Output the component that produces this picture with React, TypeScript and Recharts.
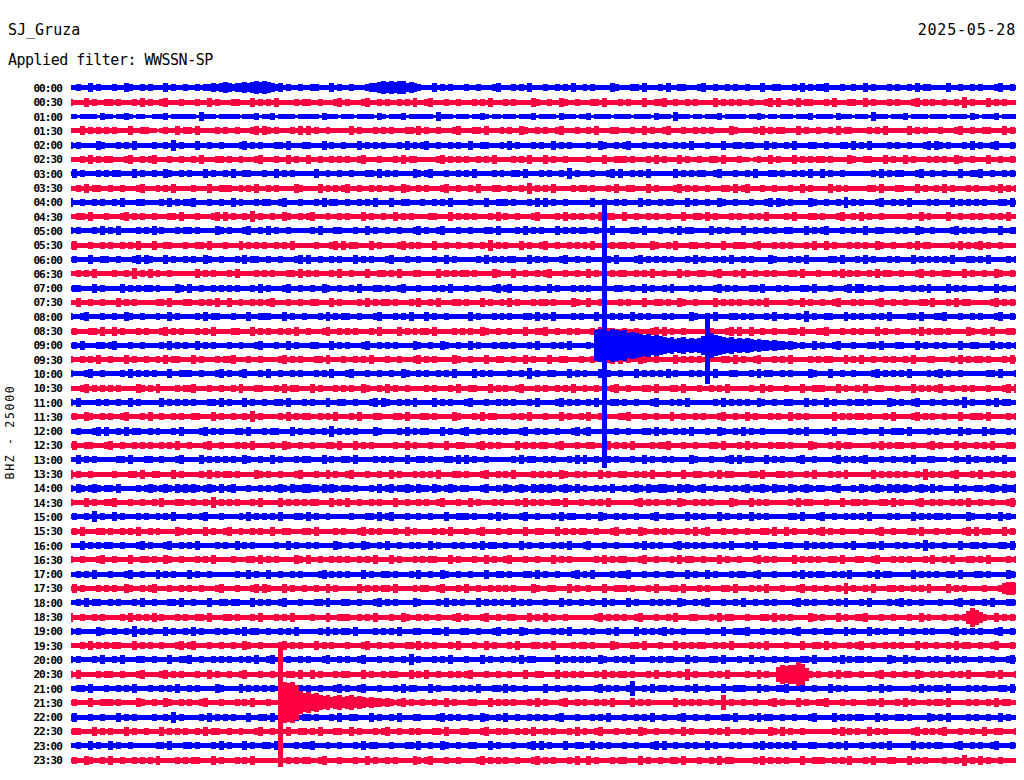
import React from 'react';
import { ComposedChart, Area, XAxis, YAxis } from 'recharts';

const stationName = 'SJ_Gruza';
const dayLabel = '2025-05-28';
const filterLabel = 'Applied filter: WWSSN-SP';
const channelLabel = 'BHZ - 25000';

const timeLabels = [
  '00:00', '00:30', '01:00', '01:30', '02:00', '02:30', '03:00', '03:30',
  '04:00', '04:30', '05:00', '05:30', '06:00', '06:30', '07:00', '07:30',
  '08:00', '08:30', '09:00', '09:30', '10:00', '10:30', '11:00', '11:30',
  '12:00', '12:30', '13:00', '13:30', '14:00', '14:30', '15:00', '15:30',
  '16:00', '16:30', '17:00', '17:30', '18:00', '18:30', '19:00', '19:30',
  '20:00', '20:30', '21:00', '21:30', '22:00', '22:30', '23:00', '23:30',
];

const traceColors = ['#0000ff', '#ff0040'];

// half height of each trace in px (base 36), one char per 7.5 s step, 240 steps per 30 min
const envelopes = [
  '2232242322 2322432232 3222423223 2232334345 4344545656 5434232232 2332224232 2322234456 5656645432 2242323222 3223222342 2232324222 3223232422 3232222432 2233242223 2422332223 4223223232 2322242233 2223242323 3422232232 2423222323 2232423322 2242232232 3222342232',
  '3222423223 3232223242 3223422232 2232242322 2332224232 3242222323 3223222342 3222342232 3223232422 3422232232 2232324222 3232222432 2322432232 2233242223 2322242233 4223223232 2224232323 2232223424 2232423322 2324222332 2423222323 2223423232 2322325232 2242323222',
  '2212222132 2122321221 1222312222 2214222122 2221222312 2312222122 2221322212 2212222132 1222312222 2214222122 2122321221 2221222312 2221322212 2312222122 2212222132 2214222122 1222312222 2122321221 2221222312 2221322212 2214222122 2312222122 2212222132 1222312222',
  '2224232323 2322242233 2212322423 3242222323 2232223424 3232223242 4232232222 2423222323 2322233242 3223222342 2233242223 2322432232 3223422232 2324222332 2232242322 3422232232 3232222432 2223242323 3222423223 2232423322 2232324222 2242323222 3222342232 2332224232',
  '3232222432 2232324222 2322325232 2242232232 2223423232 2233242223 3222423223 2224232323 2223242323 4223223232 2422332223 2423222323 2242323222 2322432232 3422232232 3223232422 2322242233 2332224232 2324222332 2322233242 3242222323 2232223424 3232223242 3223422232',
  '2223242323 3222342232 3422232232 2324222332 3223222342 2232242322 4223223232 3223422232 2232423322 2223423232 3223232422 2232324222 4232232222 2322242233 3232223242 3222423223 2233242223 2212322423 2224232323 3232222432 2332224232 2423222323 2322432232 2242232232',
  '2423222323 2332224232 2322432232 3222423223 2422332223 2242323222 2242232232 2322233242 3232222432 3422232232 3242222323 2233242223 2322325232 2232223424 2232324222 2224232323 3223422232 2324222332 3223232422 4232232222 2223242323 3222342232 2322242233 4223223232',
  '2232423322 3223222342 2232324222 2322242233 3223232422 3232222432 2224232323 4223223232 2322432232 3222342232 2324222332 2322325232 3242222323 3232223242 2332224232 2223423232 2322233242 3422232232 2232242322 2242323222 2233242223 3222423223 2423222323 2223242323',
  '4223223232 2324222332 2223242323 3422232232 2423222323 3223422232 2232423322 3223232422 2422332223 2232324222 2322242233 3232223242 4232232222 2242232232 3222423223 2332224232 2322432232 2232223424 3232222432 2322325232 3222342232 3242222323 2224232323 2322233242',
  '2233242223 2223423232 2322233242 2232223424 2322325232 2322432232 3422232232 3222423223 2242323222 2332224232 3232223242 3223222342 2223242323 2232423322 4223223232 2322242233 2423222323 2232324222 2324222332 3222342232 4232232222 2232242322 2242232232 3223232422',
  '3232223242 3242222323 2423222323 3232222432 3222342232 4232232222 2324222332 2232242322 3223222342 3223422232 2322233242 2223242323 2224232323 3223232422 2233242223 2232423322 2242323222 4223223232 2332224232 3422232232 2422332223 2322432232 2223423232 2322242233',
  '3422232232 3223232422 2422332223 2233242223 2224232323 2232324222 2232223424 2332224232 2223423232 2242232232 2322325232 3222423223 4223223232 3242222323 3232222432 2324222332 2322242233 3223422232 3232223242 2423222323 2322432232 2232423322 2223242323 4232232222',
  '2322242233 2232223424 3222423223 2322432232 2232423322 3223222342 4223223232 2242323222 3422232232 2232242322 2223242323 2332224232 3222342232 2322233242 2223423232 3232223242 3223232422 3232222432 2232324222 2233242223 2423222323 2224232323 2324222332 3242222323',
  '2232324222 2322325232 4232232222 2242323222 3242222323 2322233242 3232223242 2322242233 2324222332 2224232323 3232222432 2242232232 3422232232 2423222323 3223232422 3222423223 3223422232 4223223232 2233242223 2223242323 2232423322 3222342232 2332224232 2322432232',
  '2332224232 2224232323 3232222432 4223223232 3232223242 3222342232 2322432232 2324222332 3223422232 2232324222 3223222342 3422232232 2423222323 2322242233 2232242322 3242222323 2223423232 2233242223 2322233242 2232223424 4232232222 3223232422 2242323222 3222423223',
  '2242232232 2242323222 2233242223 3223232422 4223223232 3422232232 2332224232 2223242323 3232223242 2324222332 3222423223 2423222323 3232222432 2422332223 2322242233 2322432232 2224232323 2232324222 2232242322 3223422232 3222342232 2322233242 2232423322 2223423232',
  '3223422232 2322432232 2232242322 2232423322 2322242233 3222423223 2223242323 3223222342 2232324222 4232232222 2423222323 2322233242 3242222323 2224232323 2242323222 3232222432 2324222332 3232223242 2322325232 2332224232 3223232422 2233242223 3422232232 3222342232',
  '2322233242 2423222323 2223423232 2232324222 2332224232 3223232422 3222342232 3232223242 2224232323 3242222323 2322432232 2322242233 4223223232 2232423322 3223222342 4232232222 2232223424 2242232232 2233242223 3422232232 3222423223 2223242323 3232222432 2324222332',
  '2324222332 3422232232 2223242323 2242323222 3223222342 2232242322 2332224232 3222342232 3232222432 2322432232 2423222323 3232223242 2232324222 232fgzegfe fcdcbab9a9 8786786767 9zca987867 6765655454 4343232242 3223422232 2233242223 3222423223 2322242233 2224232323',
  '3223232422 3222423223 2232423322 2423222323 3422232232 2223423232 2233242223 2232324222 3223222342 3232222432 2322242233 2232242322 2422332223 2232223424 2322432232 2224232323 2322233242 3223422232 3242222323 2332224232 4223223232 2324222332 2223242323 3232223242',
  '3222342232 2223242323 2322242233 3223222342 3223422232 4223223232 2232324222 3422232232 2322432232 3223232422 2242323222 2322325232 2332224232 3222423223 2224232323 2423222323 2324222332 2232423322 3232222432 2242232232 2223423232 3242222323 4232232222 2233242223',
  '2223423232 3232222432 3242222323 3422232232 2324222332 2232423322 2423222323 2322432232 4232232222 3232223242 2332224232 3223422232 3223232422 3223222342 2322233242 2233242223 2232324222 2232242322 2322242233 3222423223 2422332223 2224232323 4223223232 2232223424',
  '3242222323 2232242322 2224232323 2322233242 3222423223 2233242223 2322242233 2232223424 3223232422 2242323222 3422232232 3232223242 2223423232 2324222332 3223222342 2232324222 2223242323 2322432232 2332224232 2423222323 3232222432 3223422232 2322325232 2232423322',
  '2322432232 3223422232 4223223232 2332224232 2322325232 2223242323 3223232422 2324222332 2233242223 3232222432 2232423322 2232324222 3222423223 2422332223 3422232232 2242232232 3222342232 2423222323 2242323222 2224232323 3232223242 2223423232 2322242233 3242222323',
  '2232223424 2232423322 3232223242 2223423232 2233242223 2332224232 2322325232 3232222432 2223242323 3222423223 4223223232 3222342232 3223222342 3422232232 2322233242 3223232422 2322432232 4232232222 2232324222 2324222332 2322242233 3242222323 2232242322 2423222323',
  '2422332223 4223223232 3223232422 3222342232 2232324222 2322432232 2322233242 2242323222 2232242322 2322242233 2223423232 2224232323 3223422232 2332224232 3242222323 3422232232 2233242223 2423222323 3232222432 2232423322 2223242323 3223222342 3222423223 2324222332',
  '2242323222 2233242223 3223222342 2224232323 2322432232 2423222323 3222423223 3242222323 2322242233 2322233242 4232232222 2232423322 3232223242 4223223232 2232242322 3232222432 2232223424 2332224232 3222342232 2223423232 3422232232 2324222332 2212322423 2232324222',
  '4232232222 2322233242 2332224232 2223242323 3232222432 3223222342 2232242322 3422232232 2423222323 2324222332 3222342232 3242222323 2322432232 3222423223 3223232422 2322242233 2232423322 2233242223 3232223242 2232324222 2224232323 2322325232 3223422232 4223223232',
  '3243234323 3242222323 4323432434 3432343242 3422232232 3234324334 4332434323 3232223242 3423343243 3243234323 3222342232 4323432434 3432343242 3223232422 3234324334 4332434323 4223223232 3423343243 3243234323 3223422232 4323432434 3432343242 3222423223 3234324334',
  '3222423223 3422232232 2324222332 2322325232 3232223242 2224232323 2332224232 4223223232 2242232232 3223422232 2423222323 2223242323 2233242223 2232324222 2223423232 2322432232 3232222432 2242323222 2232423322 2322242233 2322233242 3222342232 3223232422 3223222342',
  '2322325232 2423222323 2232324222 3223422232 2223242323 2324222332 4232232222 2322233242 3422232232 2322242233 3232223242 3222342232 2232423322 2322432232 3223222342 2332224232 3222423223 2242323222 2233242223 4223223232 3242222323 2224232323 3232222432 2232242322',
  '2324222332 3223232422 3232222432 3222423223 4223223232 2422332223 3242222323 2223423232 2232242322 2232324222 3223422232 2322242233 2224232323 3223222342 2322432232 3232223242 3422232232 2322233242 2423222323 4232232222 3222342232 2233242223 2232223424 2332224232',
  '2224232323 3223222342 3222342232 3242222323 2242323222 2232242322 3232222432 2322432232 4223223232 2423222323 2232423322 3222423223 2232324222 3422232232 2223242323 2223423232 3223232422 2324222332 2332224232 3232223242 2233242223 2322325232 2322242233 2322233242',
  '3223222342 2322242233 2322432232 2232324222 2322233242 3232222432 4223223232 3223232422 2423222323 2332224232 2232242322 3422232232 2242323222 2223242323 3222342232 2232423322 3222423223 2223423232 2224232323 2233242223 3223422232 3232223242 2324222332 3242222323',
  '2232324222 3222342232 2242323222 4232232222 2232242322 4223223232 2223423232 3222423223 3232223242 2322432232 2322242233 2322233242 3223222342 3242222323 3422232232 2332224232 2423222323 3223422232 2223242323 3223232422 2232423322 2224232323 2233242223 3232222432',
  '2423222323 2322432232 3422232232 3223222342 2232223424 3222423223 2232242322 2224232323 3242222323 3223422232 4223223232 3232222432 2332224232 2322242233 3232223242 2233242223 2322233242 2232324222 3222342232 2322325232 2324222332 3223232422 2242323222 2322235665',
  '2232423322 3232223242 2322233242 2322242233 2332224232 3223422232 2233242223 3223222342 3232222432 2223242323 2224232323 2242323222 3222423223 2232242322 2423222323 2322432232 3422232232 4223223232 2223423232 2232324222 3242222323 4232232222 3222342232 2324222332',
  '4223223232 2223242323 2423222323 2233242223 3232223242 2232324222 2322242233 3223232422 2322432232 3223222342 3222342232 2332224232 4232232222 2223423232 3223422232 2324222332 2232423322 2322233242 3232222432 3222423223 3422232232 2232242322 2322323697 5322423232',
  '3232222432 2322325232 3222423223 2423222323 2232423322 3223232422 2223242323 3242222323 2324222332 2233242223 3223222342 2322432232 2232324222 3232223242 2224232323 4232232222 2322242233 3422232232 3223422232 2332224232 2242323222 4223223232 2223423232 3222342232',
  '2223242323 2332224232 3223222342 3422232232 2322432232 2223423232 2242323222 3222342232 2322233242 3232223242 2232242322 2324222332 3242222323 3232222432 2233242223 2224232323 3223232422 2232324222 2322242233 2423222323 4223223232 3222423223 2232423322 3223422232',
  '3232223242 2324222332 2322242233 4223223232 3223232422 3422232232 3222342232 3223422232 2322325232 2232324222 3222423223 2232423322 2224232323 2322432232 3242222323 2332224232 2233242223 2242232232 2322233242 2223242323 3232222432 2423222323 2242323222 3223222342',
  '3242222323 3223222342 2223423232 2232242322 3223422232 2322233242 2423222323 3222423223 2332224232 4223223232 3422232232 2322242233 2224232323 2223242323 3232223242 2322325232 2232324222 2322423227 9899ca6323 2232423322 3222342232 2322432232 3223232422 2233242223',
  '2233242223 2232324222 3223232422 3232222432 2224232323 2322432232 3223222342 3223422232 2232423322 2423222323 2324222332 4232232222 4223223232 2223423232 2372232423 3232223242 2322242233 3222423223 3422232232 2242323222 2232242322 2223242323 3242222323 2322233242',
  '2322242233 3232222432 2322432232 3223422232 2232324222 322zkjkhb9 a897675675 6756545443 4323423223 2232242322 2332224232 3232223242 3222342232 3223232422 2242323222 2224232323 2232272322 3223222342 3222423223 3422232232 2233242223 2423222323 3242222323 2232423322',
  '3422232232 2242323222 2322325232 2223242323 2322242233 2423222323 3232223242 2332224232 2324222332 2223423232 2322432232 4223223232 3223422232 2232324222 3223232422 3222342232 2322233242 2232423322 3223222342 2224232323 3222423223 3232222432 3242222323 2232242322',
  '2332224232 3222423223 2224232323 2232423322 3223222342 2322242233 2324222332 2423222323 4223223232 2233242223 3222342232 3223232422 3232223242 3223422232 2322432232 2232242322 2232324222 3232222432 4232232222 2223242323 2242323222 2223423232 3422232232 2422332223',
  '2232242322 4232232222 2233242223 3232223242 3222423223 3242222323 3422232232 2232423322 2322233242 2322432232 2332224232 2232223424 2322242233 2242323222 3223222342 4223223232 2423222323 2223242323 2324222332 2232324222 3223232422 2224232323 3222342232 3223422232',
  '2322432232 4223223232 3242222323 2332224232 2232324222 2224232323 3223422232 2232242322 3232222432 3422232232 2223423232 3223222342 3232223242 2423222323 3222423223 2233242223 2232423322 2223242323 2322242233 3223232422 2324222332 2242323222 2322325232 4232232222',
];

// large excursions that reach the neighbouring traces: [trace, step, up px, down px]
const spikes = [
  [18, 135, 142, 122],
  [18, 161, 25, 38],
  [43, 53, 56, 64],
];

// traces drawn last so the quake spikes sit on top
const drawnLast = [18, 43];

const ROW = 14.3;
const STEPS = 240;

const amps = envelopes.map((s) =>
  s.replace(/\s/g, '').split('').map((c) => parseInt(c, 36))
);

const data = Array.from({ length: STEPS }, (_, k) => {
  const row: Record<string, any> = { k };
  amps.forEach((a, i) => {
    const v = a[k];
    if (v === undefined) return;
    const c = -i * ROW;
    row['t' + i] = [c - v, c + v];
  });
  return row;
});
spikes.forEach(([i, k, up, down]) => {
  const c = -i * ROW;
  data[k]['t' + i] = [c - down, c + up];
});

const ticks = timeLabels.map((_, i) => -i * ROW);
const order = [
  ...timeLabels.map((_, i) => i).filter((i) => !drawnLast.includes(i)),
  ...drawnLast,
];

const mono = '"DejaVu Sans Mono", monospace';

const TimeTick = (props: any) => {
  const { x, y, payload } = props;
  return (
    <text
      x={x}
      y={y}
      dy={4}
      textAnchor="end"
      fontSize={11}
      fontWeight="bold"
      fontFamily={mono}
      letterSpacing={-0.9}
      fill="#000"
    >
      {timeLabels[Math.round(-payload.value / ROW)]}
    </text>
  );
};

export default function App() {
  return (
    <div
      className="heli"
      style={{
        position: 'absolute',
        left: 0,
        top: 0,
        width: 1024,
        height: 780,
        background: '#fff',
        fontFamily: mono,
        color: '#000',
        overflow: 'hidden',
      }}
    >
      <style>{'.heli path{shape-rendering:crispEdges}'}</style>
      <div style={{ position: 'absolute', left: 8, top: 23, fontSize: 15, lineHeight: 1 }}>
        {stationName}
      </div>
      <div
        style={{ position: 'absolute', right: 8, top: 23, fontSize: 15, lineHeight: 1, letterSpacing: 0.8 }}
      >
        {dayLabel}
      </div>
      <div
        style={{ position: 'absolute', left: 8, top: 53, fontSize: 15, lineHeight: 1, letterSpacing: -0.5, whiteSpace: 'pre' }}
      >
        {filterLabel}
      </div>
      <div
        style={{
          position: 'absolute',
          left: 11,
          top: 432,
          fontSize: 11.5,
          lineHeight: 1,
          letterSpacing: 1.7,
          whiteSpace: 'pre',
          transform: 'translate(-50%, -50%) rotate(-90deg)',
        }}
      >
        {channelLabel}
      </div>

      <ComposedChart
        width={1024}
        height={780}
        data={data}
        margin={{ top: 78, right: 8, bottom: 10, left: 8 }}
      >
        <XAxis dataKey="k" type="number" domain={[0, STEPS - 1]} hide />
        <YAxis
          type="number"
          domain={[-(47 * ROW + 10), 10]}
          ticks={ticks}
          interval={0}
          width={63}
          axisLine={false}
          tickLine={false}
          tickSize={0}
          tickMargin={9}
          tick={<TimeTick />}
        />
        {order.map((i) => (
          <Area
            key={i}
            dataKey={'t' + i}
            type="step"
            stroke={traceColors[i % 2]}
            strokeWidth={1}
            fill={traceColors[i % 2]}
            fillOpacity={1}
            dot={false}
            activeDot={false}
            isAnimationActive={false}
          />
        ))}
      </ComposedChart>
    </div>
  );
}
